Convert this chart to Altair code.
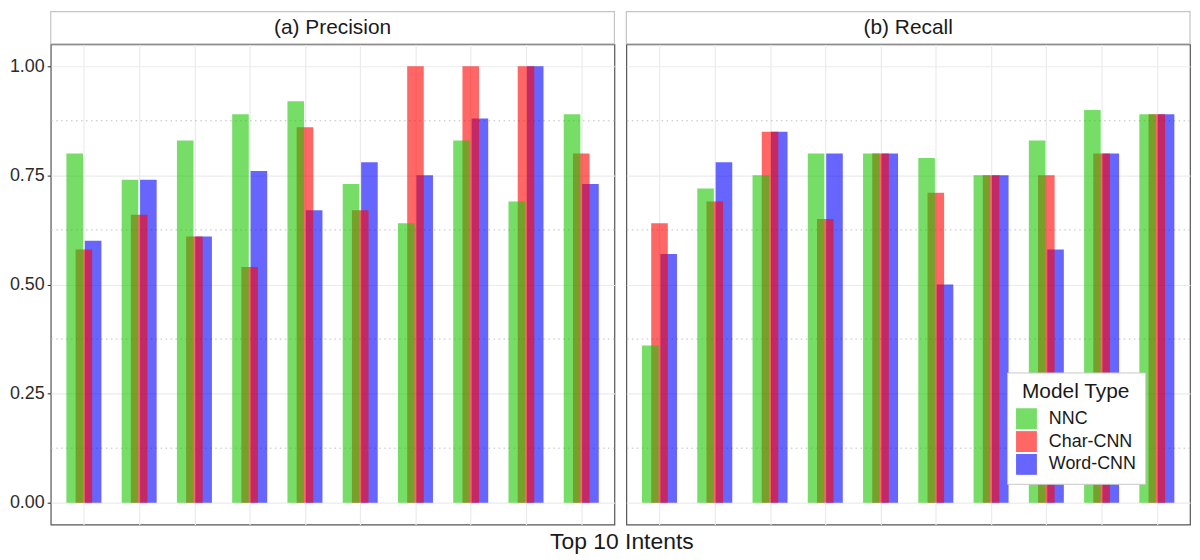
import altair as alt
import pandas as pd

# ---------------- data ----------------
intents = list(range(1, 11))
models = ["NNC", "Char-CNN", "Word-CNN"]
model_colors = ["#1bc600", "#ff0000", "#0000ff"]

precision_nnc = [0.80, 0.74, 0.83, 0.89, 0.92, 0.73, 0.64, 0.83, 0.69, 0.89]
precision_char = [0.58, 0.66, 0.61, 0.54, 0.86, 0.67, 1.00, 1.00, 1.00, 0.80]
precision_word = [0.60, 0.74, 0.61, 0.76, 0.67, 0.78, 0.75, 0.88, 1.00, 0.73]

recall_nnc = [0.36, 0.72, 0.75, 0.80, 0.80, 0.79, 0.75, 0.83, 0.90, 0.89]
recall_char = [0.64, 0.69, 0.85, 0.65, 0.80, 0.71, 0.75, 0.75, 0.80, 0.89]
recall_word = [0.57, 0.78, 0.85, 0.80, 0.80, 0.50, 0.75, 0.58, 0.80, 0.89]

panel_titles = ["(a) Precision", "(b) Recall"]
major_breaks = [0, 0.25, 0.5, 0.75, 1.0]
minor_breaks = [0.125, 0.375, 0.625, 0.875]
x_title = "Top 10 Intents"
legend_title = "Model Type"


def make_df(nnc, char, word):
    rows = []
    # drawing order: Word-CNN first, then Char-CNN, NNC on top
    for model, vals in [("Word-CNN", word), ("Char-CNN", char), ("NNC", nnc)]:
        for i, v in zip(intents, vals):
            rows.append({"intent": i, "model": model, "value": v})
    return pd.DataFrame(rows)


W, H = 567, 483
FONT = "Liberation Sans"


def panel(df, title, show_y, show_legend):
    x_scale = alt.Scale(domain=[0.4, 10.6], nice=False, zero=False)
    y_scale = alt.Scale(domain=[-0.05, 1.05], nice=False, zero=False)
    x_axis = alt.Axis(values=intents, labels=False, ticks=False, domain=False,
                      grid=True, gridColor="#ebebeb", gridWidth=1.2, title=None)
    if show_y:
        y_axis = alt.Axis(values=major_breaks, format=".2f", labelFontSize=18,
                          labelColor="#2b2b2b", tickColor="#333333", tickSize=3.6,
                          tickWidth=1.1, labelPadding=3, domain=False, grid=True,
                          gridColor="#ebebeb", gridWidth=1.2, title=None)
    else:
        y_axis = alt.Axis(values=major_breaks, labels=False, ticks=False,
                          domain=False, grid=True, gridColor="#ebebeb",
                          gridWidth=1.2, title=None)

    minor = alt.Chart(pd.DataFrame({"b": minor_breaks})).mark_rule(
        color="#bdbdbd", strokeDash=[1.5, 3.5], strokeWidth=1
    ).encode(y=alt.Y("b:Q", scale=y_scale, axis=y_axis))

    if show_legend:
        legend = alt.Legend(
            title=legend_title, orient="none", legendX=383, legendY=330,
            titleFontSize=21, titleFontWeight="normal", titleColor="#1a1a1a",
            titleAnchor="middle", titlePadding=6, labelFontSize=18,
            labelColor="#1a1a1a", symbolType="square", symbolSize=441,
            symbolStrokeWidth=0, symbolOpacity=0.6, rowPadding=2,
            labelOffset=12, padding=9, fillColor="white",
            strokeColor="#c8c8c8",
        )
        color_enc = alt.Color("model:N", scale=alt.Scale(domain=models, range=model_colors), legend=legend)
    else:
        color_enc = alt.Color("model:N", scale=alt.Scale(domain=models, range=model_colors), legend=None)

    bars = alt.Chart(df).transform_calculate(
        xc="datum.intent + (datum.model == 'NNC' ? -1/6 : (datum.model == 'Word-CNN' ? 1/6 : 0))"
    ).transform_calculate(
        xs="datum.xc - 0.15", xe="datum.xc + 0.15"
    ).mark_bar(opacity=0.6, strokeWidth=0).encode(
        x=alt.X("xs:Q", scale=x_scale, axis=x_axis),
        x2="xe:Q",
        y=alt.Y("value:Q", scale=y_scale, axis=y_axis, stack=None),
        y2=alt.datum(0),
        color=color_enc,
    )

    strip_df = pd.DataFrame({"t": [title]})
    strip_box = alt.Chart(strip_df).mark_rect(
        fill="white", stroke="#c4c4c4", strokeWidth=1.2
    ).encode(x=alt.value(0), x2=alt.value(W), y=alt.value(-33), y2=alt.value(-0.6))
    strip_text = alt.Chart(strip_df).mark_text(
        fontSize=21, color="#1a1a1a", baseline="middle", align="center"
    ).encode(x=alt.value(W / 2), y=alt.value(-16), text="t:N")

    return alt.layer(minor, bars, strip_box, strip_text).properties(width=W, height=H)


pA = panel(make_df(precision_nnc, precision_char, precision_word), panel_titles[0], True, False)
pB = panel(make_df(recall_nnc, recall_char, recall_word), panel_titles[1], False, True)

chart = alt.hconcat(pA, pB, spacing=8).resolve_scale(
    color="independent"
).resolve_legend(color="independent").properties(
    title=alt.TitleParams(x_title, orient="bottom", anchor="middle", fontSize=23,
                          fontWeight="normal", color="#1a1a1a", offset=6, dx=22),
    padding={"left": 0, "top": 0, "right": 0, "bottom": 0},
).configure(font=FONT).configure_view(stroke="#555555", strokeWidth=1.2)

chart.save("out.html", embed_options={"renderer": "svg", "actions": False})
